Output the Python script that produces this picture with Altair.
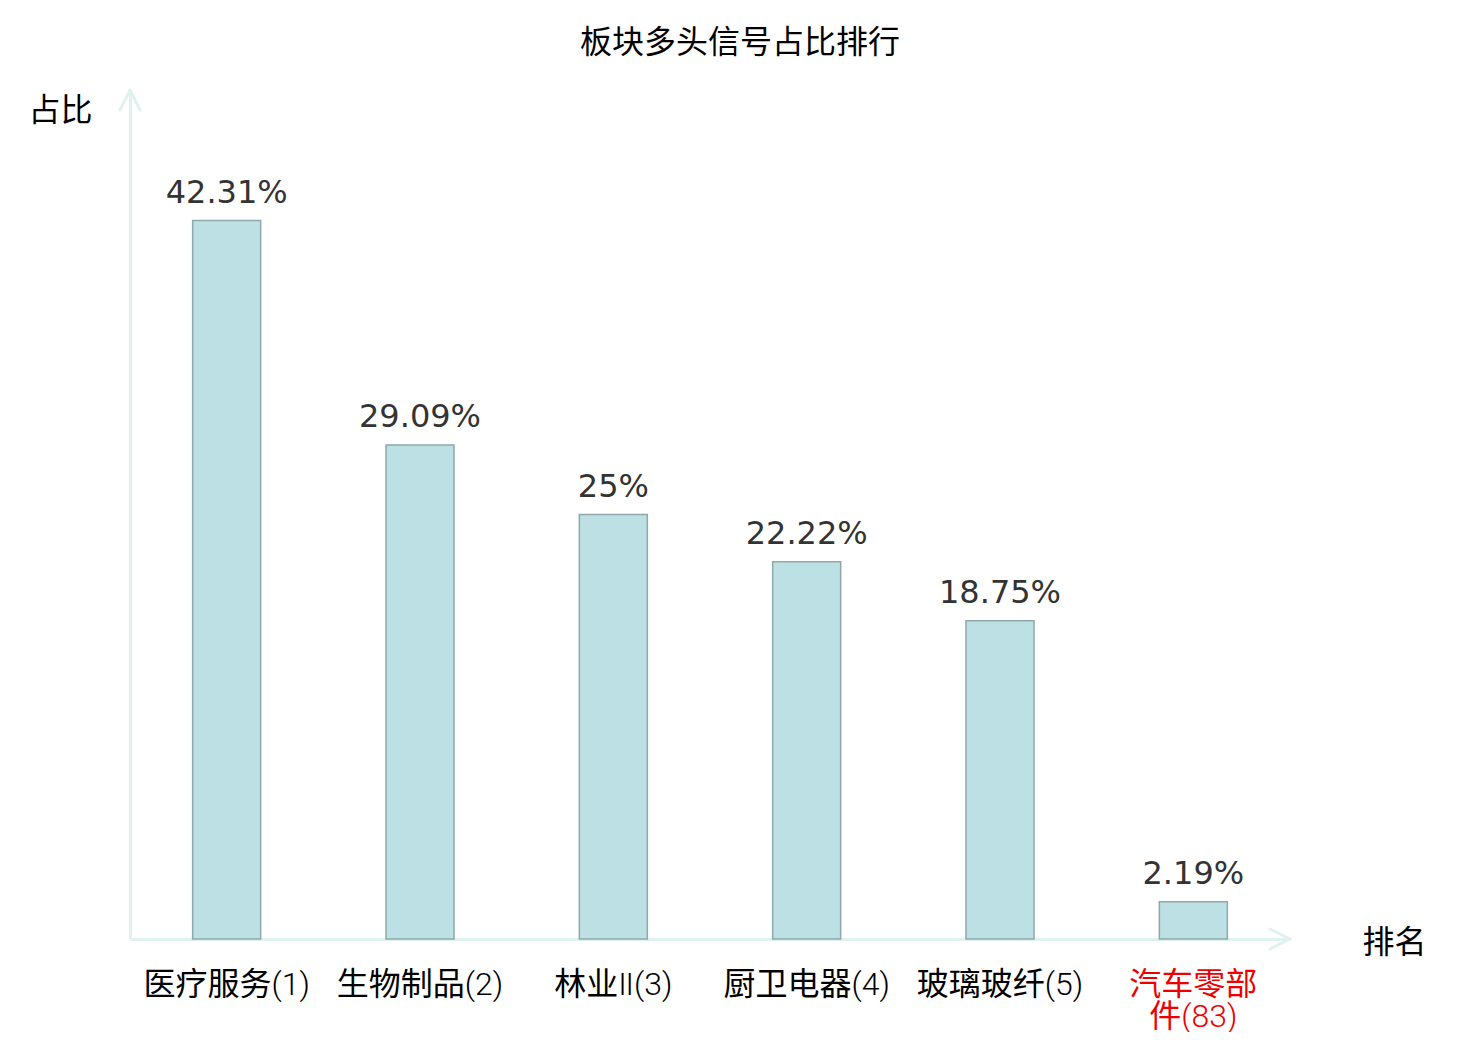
import altair as alt
import pandas as pd

categories = ["医疗服务(1)", "生物制品(2)", "林业Ⅱ(3)", "厨卫电器(4)", "玻璃玻纤(5)", "汽车零部件(83)"]
values = [42.31, 29.09, 25, 22.22, 18.75, 2.19]
value_labels = ["42.31%", "29.09%", "25%", "22.22%", "18.75%", "2.19%"]
highlight = "汽车零部件(83)"

df = pd.DataFrame({"cat": categories, "val": values, "lab": value_labels})

FONT = "DejaVu Sans, Noto Sans CJK SC"
LABEL_FONT = "Roboto Light, Lato Light, Noto Sans CJK SC"
AXIS_COLOR = "#e0f2f0"

x_enc = alt.X(
    "cat:N",
    sort=categories,
    scale=alt.Scale(paddingInner=0, paddingOuter=0),
    axis=alt.Axis(
        title="排名",
        titleAngle=0,
        titleX=1232,
        titleY=3,
        titleAlign="left",
        titleBaseline="middle",
        titleFontSize=32,
        titleFontWeight="normal",
        titleColor="#000000",
        titleFont=FONT,
        labelAngle=0,
        labelFontSize=32,
        labelFont=LABEL_FONT,
        labelPadding=30,
        labelBaseline="top",
        labelLineHeight=32,
        labelColor={"condition": {"test": f"datum.value == '{highlight}'", "value": "#ee0000"}, "value": "#000000"},
        labelExpr=f"datum.value == '{highlight}' ? ['汽车零部', '件(83)'] : datum.value",
        ticks=False,
        domainColor=AXIS_COLOR,
        domainWidth=3,
        grid=False,
    ),
)

y_enc = alt.Y(
    "val:Q",
    scale=alt.Scale(domain=[0, 50], nice=False),
    axis=alt.Axis(
        title="占比",
        titleAngle=0,
        titleX=-38,
        titleY=20,
        titleAlign="right",
        titleBaseline="middle",
        titleFontSize=32,
        titleFontWeight="normal",
        titleColor="#000000",
        titleFont=FONT,
        labels=False,
        ticks=False,
        domainColor=AXIS_COLOR,
        domainWidth=3,
        grid=False,
    ),
)

base = alt.Chart(df)

bars = base.mark_bar(size=68, fill="#bce0e3", stroke="#8ea9aa", strokeWidth=1.5).encode(x=x_enc, y=y_enc)

texts = base.mark_text(
    baseline="alphabetic", dy=-18, fontSize=32, font=FONT, color="#333333"
).encode(x=alt.X("cat:N", sort=categories), y="val:Q", text="lab:N")

H = 849
W = 1160
arrow_style = dict(color=AXIS_COLOR, strokeWidth=3, strokeCap="round")
arrows = [
    alt.Chart(df.head(1)).mark_rule(**arrow_style).encode(x=alt.value(-10), y=alt.value(20), x2=alt.value(0), y2=alt.value(0)),
    alt.Chart(df.head(1)).mark_rule(**arrow_style).encode(x=alt.value(10), y=alt.value(20), x2=alt.value(0), y2=alt.value(0)),
    alt.Chart(df.head(1)).mark_rule(**arrow_style).encode(x=alt.value(W - 20), y=alt.value(H - 10), x2=alt.value(W), y2=alt.value(H)),
    alt.Chart(df.head(1)).mark_rule(**arrow_style).encode(x=alt.value(W - 20), y=alt.value(H + 10), x2=alt.value(W), y2=alt.value(H)),
]

chart = alt.layer(bars, texts, *arrows).properties(
    width=W,
    height=H,
    background="white",
    title=alt.Title(
        "板块多头信号占比排行",
        fontSize=32,
        font=FONT,
        fontWeight="normal",
        color="#000000",
        anchor="middle",
        dx=30,
        offset=29,
    ),
    autosize=alt.AutoSizeParams(type="none"),
    padding={"left": 122, "top": 82, "right": 170, "bottom": 93},
).configure_view(strokeWidth=0, stroke="transparent")

chart.save("out.html", embed_options={"renderer": "svg", "actions": False})
